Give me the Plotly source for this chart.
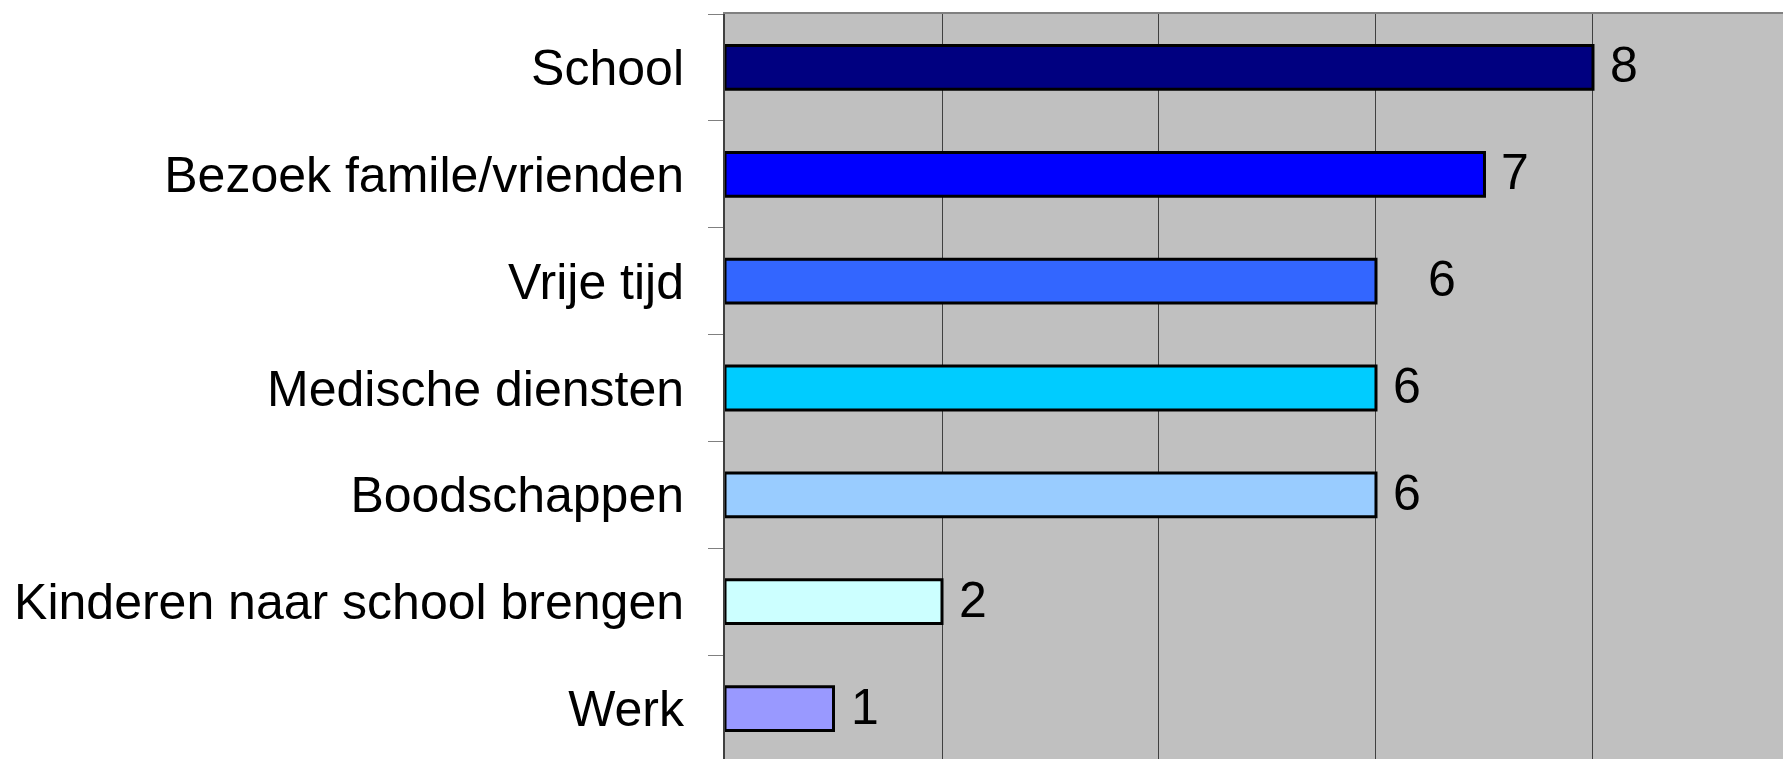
import plotly.graph_objects as go

# categories listed bottom -> top (plotly draws horizontal categories from the bottom)
categories = [
    "Werk",
    "Kinderen naar school brengen",
    "Boodschappen",
    "Medische diensten",
    "Vrije tijd",
    "Bezoek famile/vrienden",
    "School",
]
values = [1, 2, 6, 6, 6, 7, 8]
bar_colors = ["#9999FF", "#CCFFFF", "#99CCFF", "#00CCFF", "#3366FF", "#0000FF", "#000080"]
label_shift = [15, 15, 15, 15, 50, 15, 15]   # "Vrije tijd" label sits further out in the original

FONT = "Liberation Sans, Arial, sans-serif"

fig = go.Figure()
fig.add_trace(go.Bar(
    x=values, y=categories, orientation="h",
    marker=dict(color=bar_colors, line=dict(color="black", width=3)),
    width=0.41, hoverinfo="x+y", showlegend=False,
))

for cat, val, dx in zip(categories, values, label_shift):
    fig.add_annotation(
        x=val, y=cat, text=str(val), showarrow=False,
        xanchor="left", yanchor="middle", xshift=dx, yshift=2,
        font=dict(family=FONT, size=50, color="black"),
    )

fig.update_xaxes(
    range=[0, 9.825], side="top", showticklabels=False, ticks="",
    showgrid=True, gridcolor="#404040", gridwidth=1, dtick=2,
    showline=True, linecolor="#808080", linewidth=2,
    zeroline=False, fixedrange=True,
)
fig.update_yaxes(
    categoryorder="array", categoryarray=categories,
    range=[-0.472, 6.5], ticks="outside", tickson="boundaries",
    ticklen=15, tickwidth=1, tickcolor="#808080",
    showline=True, linecolor="#404040", linewidth=2,
    showgrid=False, ticklabelstandoff=29,
    tickfont=dict(family=FONT, size=50, color="black"),
)
# page body keeps its default 8px margin, so the figure is trimmed by that much
fig.update_layout(
    width=1783, height=751,
    plot_bgcolor="#C0C0C0", paper_bgcolor="white",
    margin=dict(l=717, r=0, t=6, b=0, pad=0),
    font=dict(family=FONT, size=50, color="black"),
)

fig.write_html("out.html")
